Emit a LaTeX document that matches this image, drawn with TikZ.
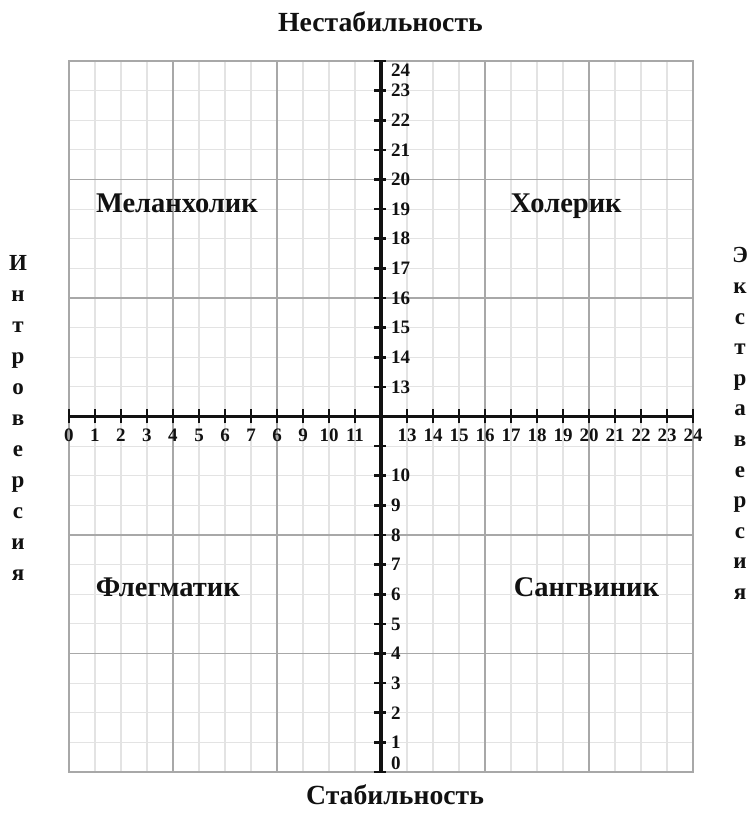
\documentclass[tikz,border=0pt]{standalone}
\usepackage{fontspec}
\setmainfont{Liberation Serif}
\usepackage{tikz}
\usetikzlibrary{positioning}
\definecolor{tempInk}{HTML}{111111}
\definecolor{tempMinor}{HTML}{E3E3E3}
\definecolor{tempMajor}{HTML}{A8A8A8}
\tikzset{
  minorgrid/.style = {draw=tempMinor, line width=1.1pt},
  majorgrid/.style = {draw=tempMajor, line width=1.5pt},
  axisline/.style  = {draw=tempInk, line width=3.6pt},
  tickmark/.style  = {draw=tempInk, line width=2.6pt},
  ticklbl/.style   = {font=\fontsize{19}{19}\selectfont\bfseries, text=tempInk,
                      inner sep=0pt},
  typelbl/.style   = {font=\fontsize{28.5}{28.5}\selectfont\bfseries, text=tempInk,
                      inner sep=0pt, anchor=base},
  poletitle/.style = {font=\fontsize{27.7}{27.7}\selectfont\bfseries, text=tempInk,
                      inner sep=0pt},
  sidetitle/.style = {font=\fontsize{23}{31}\selectfont\bfseries, text=tempInk,
                      align=center, inner sep=0pt},
}
\begin{document}
\begin{tikzpicture}[x=26pt, y=29.625pt]
  \useasboundingbox (-2.6538,-2.0591) rectangle (26.3846,26.0591);

  \foreach \i in {0,...,24} {
    \draw[minorgrid] (\i,0) -- (\i,24);
    \draw[minorgrid] (0,\i) -- (24,\i);
  }
  \foreach \i in {4,8,16,20} {
    \draw[majorgrid] (\i,0) -- (\i,24);
    \draw[majorgrid] (0,\i) -- (24,\i);
  }
  \draw[majorgrid] (0,0) rectangle (24,24);

  \draw[axisline] (0,12) -- (24,12);
  \draw[axisline] (12,0) -- (12,24);
  \foreach \i in {0,...,24} {
    \draw[tickmark] ([yshift=-7pt]\i,12) -- ([yshift=7pt]\i,12);
    \draw[tickmark] ([xshift=-7pt]12,\i) -- ([xshift=5pt]12,\i);
  }

  \foreach \v/\t in {0/0,1/1,2/2,3/3,4/4,5/5,6/6,7/7,8/6,9/9,10/10,11/11,
                     13/13,14/14,15/15,16/16,17/17,18/18,19/19,20/20,21/21,
                     22/22,23/23,24/24}
    \node[ticklbl, anchor=north] (xl\v) at ([yshift=-12pt]\v,12) {\t};
  \foreach \v in {1,...,10,13,14,...,23}
    \node[ticklbl, anchor=west] (yl\v) at ([xshift=10pt]12,\v) {\v};
  \node[ticklbl, anchor=west] (yl0) at ([xshift=10pt]12,0.3) {0};
  \node[ticklbl, anchor=west] (yl24) at ([xshift=10pt]12,23.7) {24};

  \node[typelbl] (melan) at (4.15,18.9) {Меланхолик};
  \node[typelbl] (choler) at (19.12,18.9) {Холерик};
  \node[typelbl] (phleg) at (3.8,5.91) {Флегматик};
  \node[typelbl] (sangv) at (19.9,5.91) {Сангвиник};

  \node[poletitle] (unstable) at (11.98,25.32) {Нестабильность};
  \node[poletitle] (stable) at (12.54,-0.78) {Стабильность};
  \node[sidetitle] (intro) at (-1.96,11.95)
    {И\\н\\т\\р\\о\\в\\е\\р\\с\\и\\я};
  \node[sidetitle, font=\fontsize{23}{30.6}\selectfont\bfseries] (extra)
    at (25.81,11.76) {Э\\к\\с\\т\\р\\а\\в\\е\\р\\с\\и\\я};
\end{tikzpicture}
\end{document}
